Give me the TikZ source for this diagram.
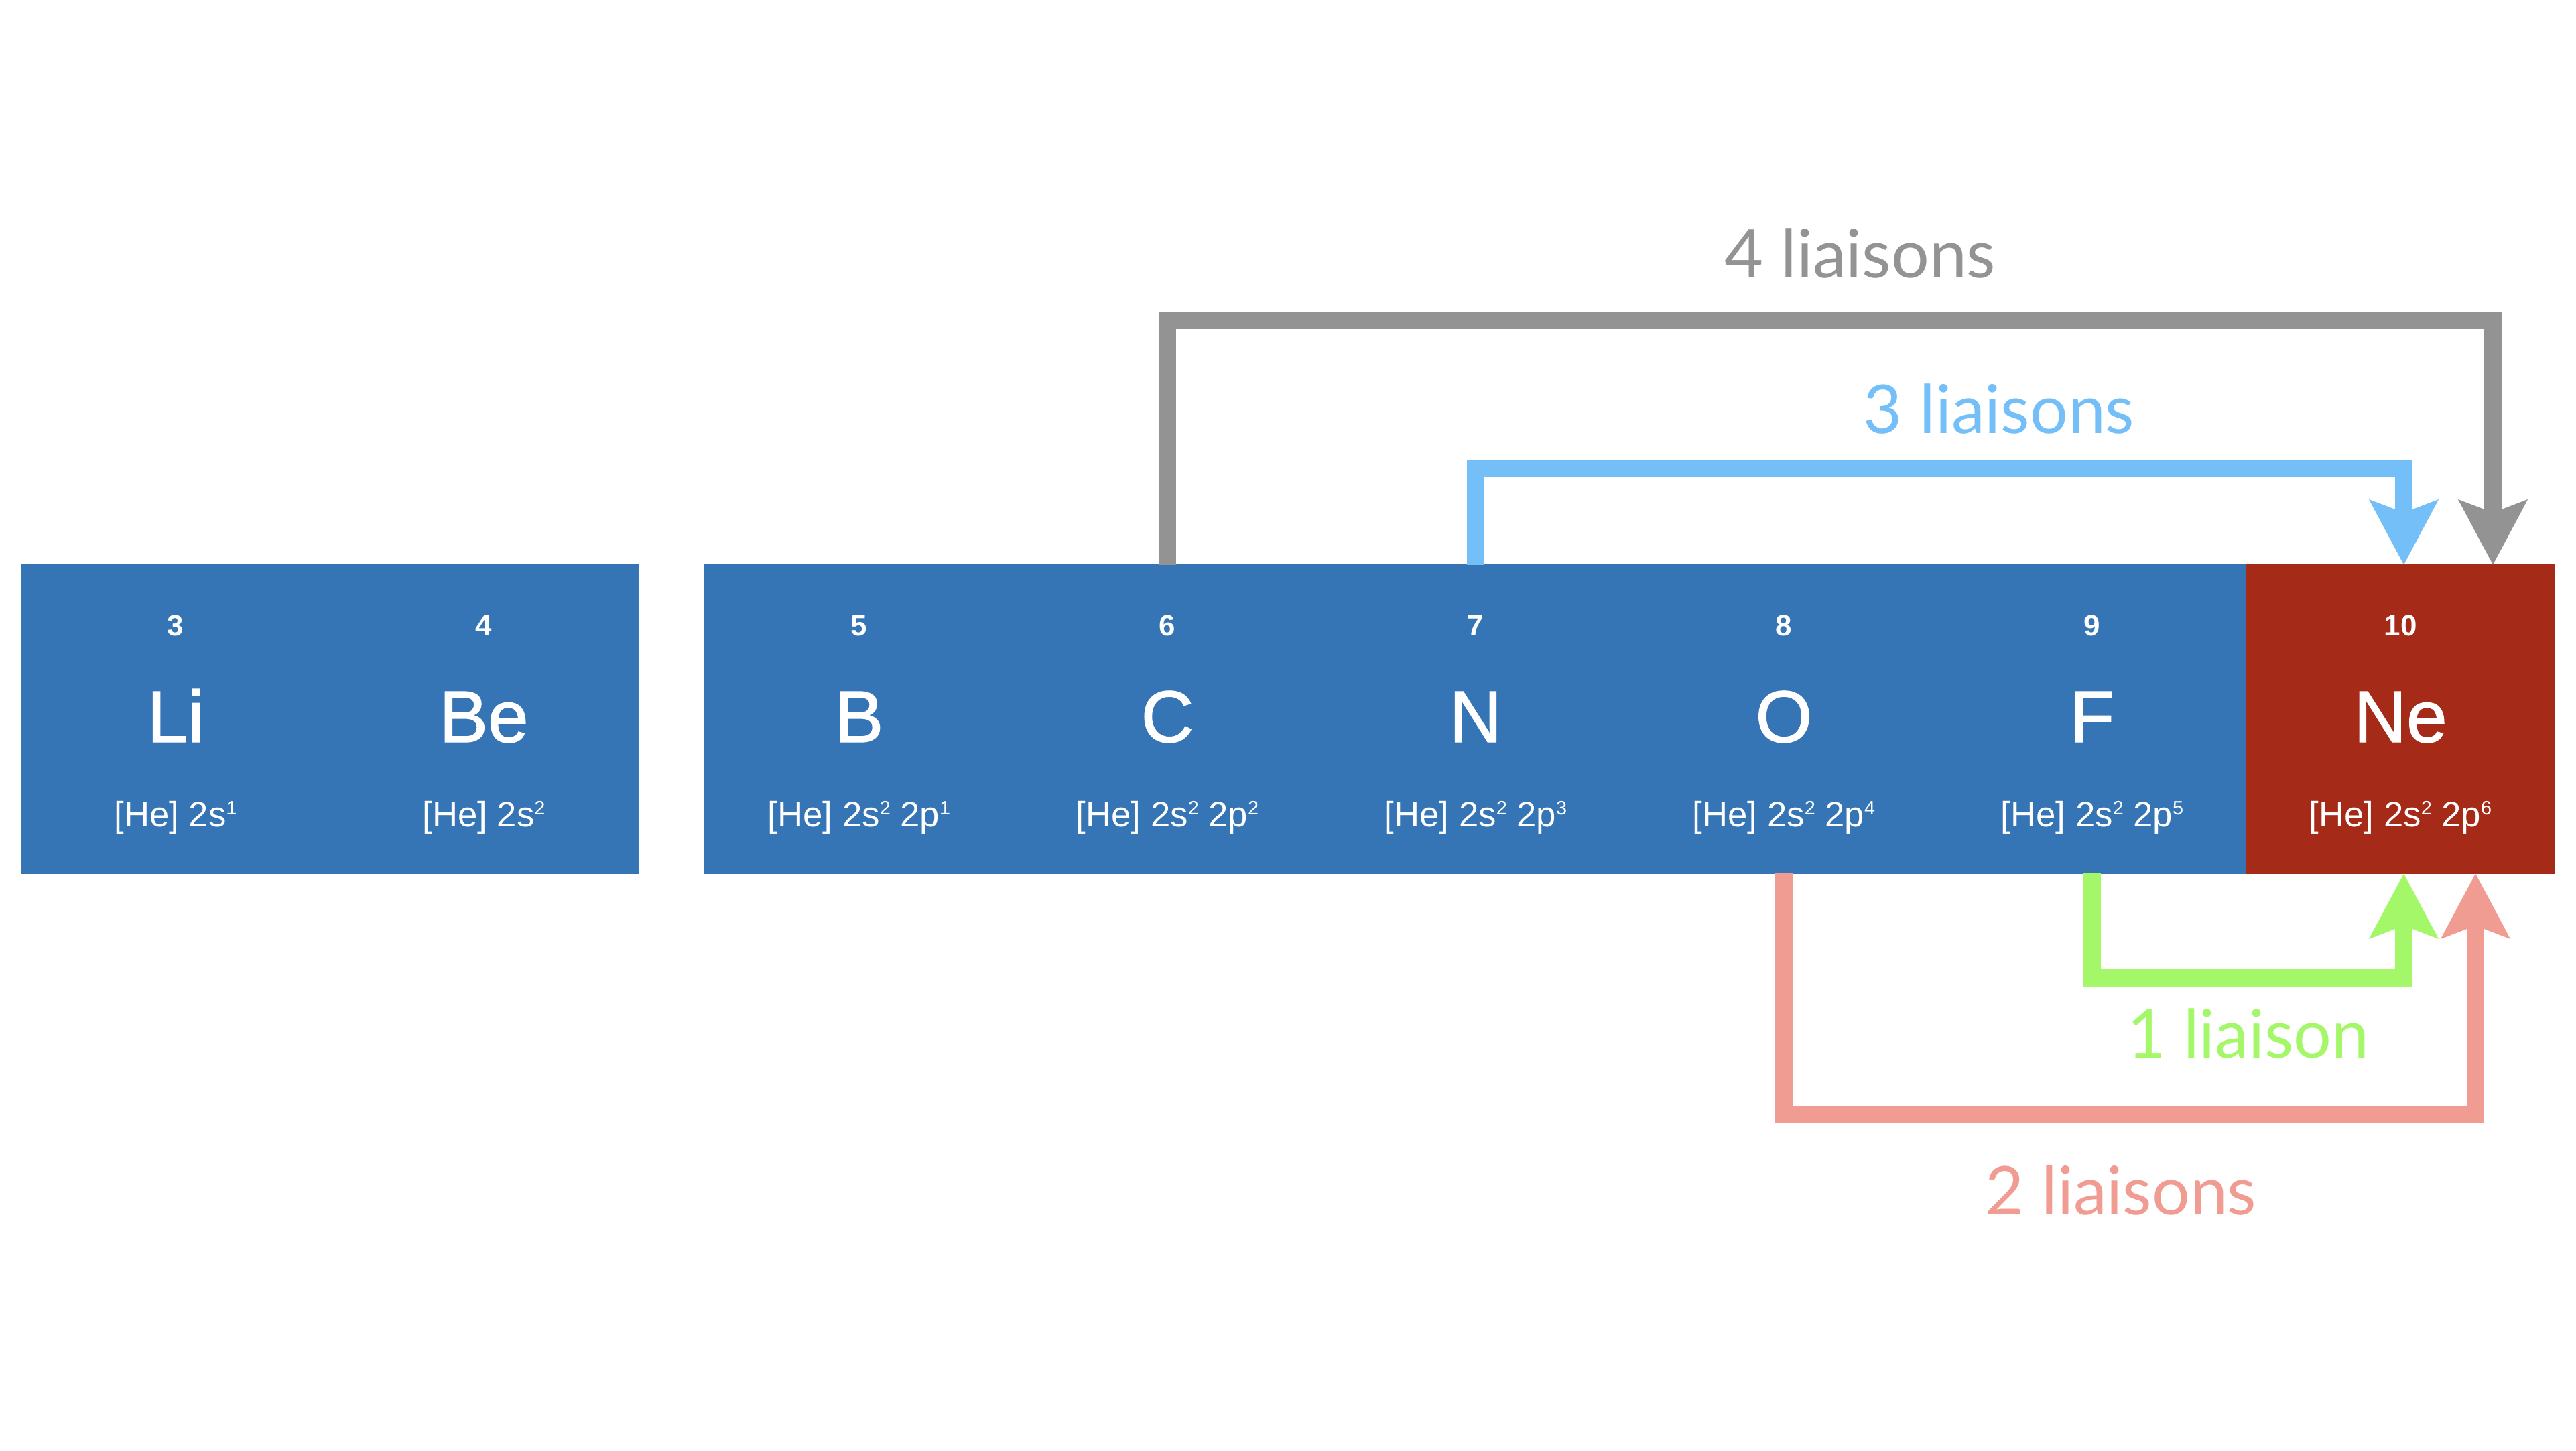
\documentclass[tikz,border=0pt]{standalone}
\usepackage{fontspec}
\setmainfont{Liberation Sans}
\newfontfamily\lblfont{Lato}
\newfontfamily\symfont[FakeBold=1.3]{Liberation Sans}
\usetikzlibrary{arrows.meta}
\definecolor{cellblue}{HTML}{3574B5}
\definecolor{cellred}{HTML}{A52A18}
\definecolor{col4}{HTML}{939393}
\definecolor{col3}{HTML}{74BFF8}
\definecolor{col1}{HTML}{A5F76A}
\definecolor{col2}{HTML}{F09C92}
\newcommand{\ex}[1]{\raisebox{4.9pt}{\fontsize{8.2}{9}\selectfont #1}}
\tikzset{
	cell/.style={rectangle, minimum size=4.6cm, inner sep=0pt, outer sep=0pt, fill=cellblue, draw=cellblue, line width=0.3pt},
	num/.style={anchor=base, text=white, font=\fontsize{12.5}{14}\selectfont\bfseries},
	sym/.style={anchor=base, text=white, font=\symfont\fontsize{31}{36}\selectfont},
	conf/.style={anchor=base, text=white, font=\fontsize{15}{18}\selectfont},
	link/.style={line width=0.26cm, line join=miter, -{Stealth[length=0.96cm, width=1cm, inset=0.18cm]}},
	lbl/.style={anchor=base, font=\lblfont\fontsize{28.5}{34}\selectfont}
}
\begin{document}
\begin{tikzpicture}
		\useasboundingbox (0,0) rectangle (38.44,-21.64);

		% cells
		\node[cell] (li) at (2.62,-10.73) {};
		\node[cell] (be) at (7.22,-10.73) {};
		\node[cell] (b) at (12.82,-10.73) {};
		\node[cell] (c) at (17.42,-10.73) {};
		\node[cell] (n) at (22.02,-10.73) {};
		\node[cell] (o) at (26.62,-10.73) {};
		\node[cell] (f) at (31.22,-10.73) {};
		\node[cell, fill=cellred, draw=cellred] (ne) at (35.82,-10.73) {};

		\node[num] (li-z) at ([yshift=1.25cm]li.center) {3};
		\node[sym] (li-s) at ([yshift=-0.34cm]li.center) {Li};
		\node[conf] (li-e) at ([yshift=-1.6cm]li.center) {[He] 2s\ex{1}};

		\node[num] (be-z) at ([yshift=1.25cm]be.center) {4};
		\node[sym] (be-s) at ([yshift=-0.34cm]be.center) {Be};
		\node[conf] (be-e) at ([yshift=-1.6cm]be.center) {[He] 2s\ex{2}};

		\node[num] (b-z) at ([yshift=1.25cm]b.center) {5};
		\node[sym] (b-s) at ([yshift=-0.34cm]b.center) {B};
		\node[conf] (b-e) at ([yshift=-1.6cm]b.center) {[He] 2s\ex{2} 2p\ex{1}};

		\node[num] (c-z) at ([yshift=1.25cm]c.center) {6};
		\node[sym] (c-s) at ([yshift=-0.34cm]c.center) {C};
		\node[conf] (c-e) at ([yshift=-1.6cm]c.center) {[He] 2s\ex{2} 2p\ex{2}};

		\node[num] (n-z) at ([yshift=1.25cm]n.center) {7};
		\node[sym] (n-s) at ([yshift=-0.34cm]n.center) {N};
		\node[conf] (n-e) at ([yshift=-1.6cm]n.center) {[He] 2s\ex{2} 2p\ex{3}};

		\node[num] (o-z) at ([yshift=1.25cm]o.center) {8};
		\node[sym] (o-s) at ([yshift=-0.34cm]o.center) {O};
		\node[conf] (o-e) at ([yshift=-1.6cm]o.center) {[He] 2s\ex{2} 2p\ex{4}};

		\node[num] (f-z) at ([yshift=1.25cm]f.center) {9};
		\node[sym] (f-s) at ([yshift=-0.34cm]f.center) {F};
		\node[conf] (f-e) at ([yshift=-1.6cm]f.center) {[He] 2s\ex{2} 2p\ex{5}};

		\node[num] (ne-z) at ([yshift=1.25cm]ne.center) {10};
		\node[sym] (ne-s) at ([yshift=-0.34cm]ne.center) {Ne};
		\node[conf] (ne-e) at ([yshift=-1.6cm]ne.center) {[He] 2s\ex{2} 2p\ex{6}};

		% arrows
		\coordinate (top4) at (0,-4.78);
		\coordinate (top3) at (0,-6.99);
		\coordinate (bot1) at (0,-14.59);
		\coordinate (bot2) at (0,-16.63);
		\coordinate (in4) at ([xshift=1.38cm]ne.north);
		\coordinate (in3) at ([xshift=0.05cm]ne.north);
		\coordinate (in1) at ([xshift=0.05cm]ne.south);
		\coordinate (in2) at ([xshift=1.12cm]ne.south);

		\draw[link, col4] (c.north) |- (in4 |- top4) -- (in4);
		\draw[link, col3] (n.north) |- (in3 |- top3) -- (in3);
		\draw[link, col1] (f.south) |- (in1 |- bot1) -- (in1);
		\draw[link, col2] (o.south) |- (in2 |- bot2) -- (in2);

		\node[lbl, text=col4] (lab4) at (27.76,-4.14) {4 liaisons};
		\node[lbl, text=col3] (lab3) at (29.83,-6.46) {3 liaisons};
		\node[lbl, text=col1] (lab1) at (33.55,-15.78) {1 liaison};
		\node[lbl, text=col2] (lab2) at (31.65,-18.12) {2 liaisons};
	\end{tikzpicture}
\end{document}
